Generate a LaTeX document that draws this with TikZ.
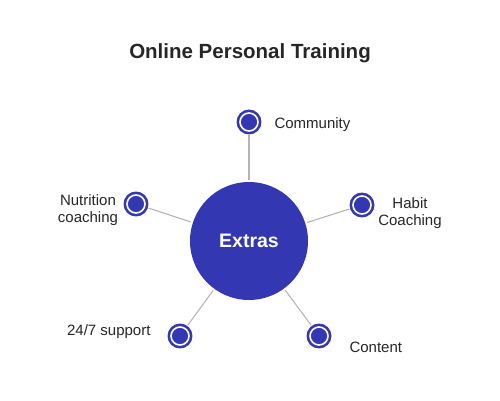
\documentclass[tikz,border=0pt]{standalone}
\usepackage{fontspec}
\setmainfont{Liberation Sans}
\definecolor{extrablue}{HTML}{3338B2}
\definecolor{linkgray}{HTML}{B4B4B4}
\tikzset{
  hub/.style={circle, fill=extrablue, minimum size=118pt, inner sep=0pt,
    text=white, font=\bfseries\fontsize{19.5}{22}\selectfont},
  dot/.style={circle, draw=extrablue, fill=extrablue, double=white,
    double distance=1.6pt, line width=2.6pt, minimum size=18pt, inner sep=0pt},
  link/.style={draw=linkgray, line width=1.1pt},
  lbl/.style={font=\fontsize{15}{17.5}\selectfont, text=black!85, align=center}
}
\begin{document}
\begin{tikzpicture}[x=1pt,y=-1pt]
\useasboundingbox (0,0) rectangle (500,400);

\node[font=\bfseries\fontsize{20.5}{24}\selectfont, text=black!85] (title) at (250,53) {Online Personal Training};

\node[hub] (extras) at (249,241) {Extras};

\node[dot] (community) at (249,122) {};
\node[dot] (nutrition) at (136,204) {};
\node[dot] (habit) at (362,205) {};
\node[dot] (support) at (180,336) {};
\node[dot] (content) at (319,336) {};

\node[lbl, anchor=west] (lcommunity) at (271,125) {Community};
\node[lbl] (lnutrition) at (88,210) {Nutrition\\coaching};
\node[lbl] (lhabit) at (410,213) {Habit\\Coaching};
\node[lbl, anchor=east] (lsupport) at (154,332) {24/7 support};
\node[lbl, anchor=west] (lcontent) at (346,347) {Content};

\draw[link, shorten <=3pt, shorten >=2pt] (community) -- (extras);
\draw[link, shorten <=3pt, shorten >=2pt] (nutrition) -- (extras);
\draw[link, shorten <=3pt, shorten >=2pt] (habit) -- (extras);
\draw[link, shorten <=3pt, shorten >=2pt] (support) -- (extras);
\draw[link, shorten <=3pt, shorten >=2pt] (content) -- (extras);
\end{tikzpicture}
\end{document}
